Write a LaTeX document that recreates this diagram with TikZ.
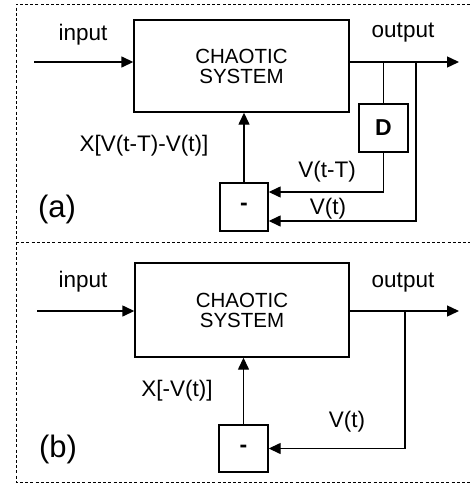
\documentclass[tikz,border=0pt]{standalone}
\usepackage{fontspec}
\setmainfont{Liberation Sans}
\usepackage{tikz}
\usetikzlibrary{arrows.meta}

\begin{document}
\begin{tikzpicture}[x=1pt, y=-1pt,
    sig/.style={line width=1.4pt, -{Triangle[length=12pt,width=11pt]}},
    wire/.style={line width=1.4pt},
    blockbox/.style={draw, line width=1.4pt, inner sep=0pt, align=center, font=\fontsize{20.5}{20}\selectfont},
    lbl/.style={inner sep=0pt, font=\fontsize{22.5}{24}\selectfont},
    frame/.style={line width=0.7pt, dash pattern=on 3pt off 2.2pt}]
    \useasboundingbox (0,0) rectangle (470,487);
    \draw[frame] (470,4) -- (16,4) -- (16,482) -- (470,482);
    \draw[frame] (16,242) -- (470,242);
    % (a)
    \node[blockbox, minimum width=215pt, minimum height=92pt] (sysA) at (241.5,66) {CHAOTIC\\SYSTEM};
    \node[blockbox, minimum width=49pt, minimum height=48pt, font=\fontsize{23}{24}\selectfont\bfseries] (delA) at (383.5,128) {D};
    \node[blockbox, minimum width=48pt, minimum height=48pt, font=\fontsize{23}{24}\selectfont\bfseries] (minA) at (244,207) {-};
    \coordinate (inA) at (34,62);
    \coordinate (outA) at (459,62);
    \coordinate (tapA) at (383.5,62);
    \coordinate (tapAA) at (416,62);
    \draw[sig] (inA) -- (inA -| sysA.west);
    \draw[sig] (outA -| sysA.east) -- (outA);
    \draw[wire] (tapA) -- (delA.north);
    \draw[sig] (delA.south) |- ([yshift=15pt]minA.east);
    \draw[sig] (tapAA) |- ([yshift=-14pt]minA.east);
    \draw[sig] (minA.north) -- (minA.north |- sysA.south);
    \node[lbl] (inlblA) at (83,35) {input};
    \node[lbl] (outlblA) at (403,33) {output};
    \node[lbl] (fbA) at (144,146) {X[V(t-T)-V(t)]};
    \node[lbl] (dlyA) at (327,172) {V(t-T)};
    \node[lbl] (vA) at (328,209) {V(t)};
    \node[inner sep=0pt, font=\fontsize{31}{32}\selectfont] (tagA) at (57,209) {(a)};
    % (b)
    \node[blockbox, minimum width=214pt, minimum height=94pt] (sysB) at (242,310) {CHAOTIC\\SYSTEM};
    \node[blockbox, minimum width=49pt, minimum height=47pt, font=\fontsize{23}{24}\selectfont\bfseries] (minB) at (243.5,448.5) {-};
    \coordinate (inB) at (37,311);
    \coordinate (outB) at (459,311);
    \coordinate (tapB) at (405,311);
    \draw[sig] (inB) -- (inB -| sysB.west);
    \draw[sig] (outB -| sysB.east) -- (outB);
    \draw[sig] (tapB) |- (minB.east);
    \draw[sig] (minB.north) -- (minB.north |- sysB.south);
    \node[lbl] (inlblB) at (83,282) {input};
    \node[lbl] (outlblB) at (403,283) {output};
    \node[lbl] (fbB) at (177,391) {X[-V(t)]};
    \node[lbl] (vB) at (347,422) {V(t)};
    \node[inner sep=0pt, font=\fontsize{31}{32}\selectfont] (tagB) at (58,449) {(b)};
\end{tikzpicture}
\end{document}
